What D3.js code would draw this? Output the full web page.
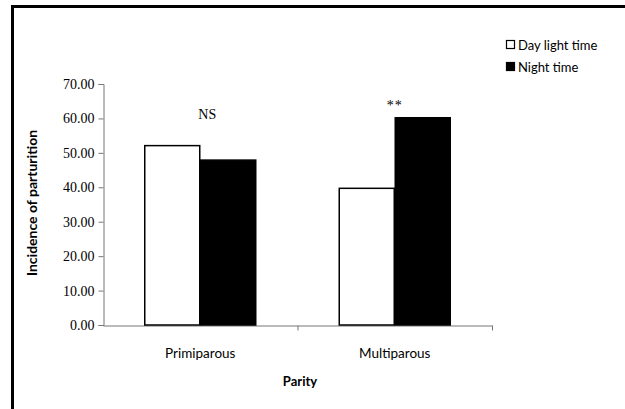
<!DOCTYPE html>
<html><head><meta charset="utf-8">
<script src="https://cdn.jsdelivr.net/npm/d3@7"></script>
<style>body{margin:0;background:#fff}svg{display:block}</style>
</head><body>
<svg id="c" width="625" height="409"></svg>
<script>
const categories = ["Primiparous", "Multiparous"];
const seriesNames = ["Day light time", "Night time"];
const dayValues = [52.1, 39.7];
const nightValues = [47.9, 60.2];
const annotations = ["NS", "**"];
const yTicks = [0, 10, 20, 30, 40, 50, 60, 70];

const svg = d3.select("#c");
// frame
svg.append("path").attr("d","M12.5,625 V6.5 H625").attr("fill","none").attr("stroke","#000").attr("stroke-width",3);

const x0 = d3.scaleBand().domain(categories).range([103, 492]).paddingInner(0).paddingOuter(0);
const x1 = d3.scaleBand().domain(seriesNames).range([0, 112]);
const y = d3.scaleLinear().domain([0, 70]).range([325, 84]);
const grp = (c) => x0(c) + (x0.bandwidth() - 112) / 2;

const yAxis = d3.axisLeft(y).tickValues(yTicks).tickFormat(d3.format(".2f")).tickSize(5).tickPadding(4);
const ga = svg.append("g").attr("transform","translate(103.5,0)").call(yAxis);
ga.select(".domain").attr("stroke","#777");
ga.selectAll(".tick line").attr("stroke","#777");
ga.selectAll("text").attr("font-family","Liberation Serif").attr("font-size",14).attr("fill","#000");

const xAxis = d3.axisBottom(x0).tickValues([]).tickSizeOuter(0);
const gx = svg.append("g").attr("transform","translate(0,325.5)").call(xAxis);
gx.select(".domain").attr("stroke","#777");
// category boundary ticks
const bounds = [x0.range()[0], x0(categories[1]), x0.range()[1]];
gx.selectAll("line.b").data(bounds.slice(1)).enter().append("line")
  .attr("x1",d=>d+0.5).attr("x2",d=>d+0.5).attr("y1",0).attr("y2",5).attr("stroke","#777");

const rows = categories.map((c,i)=>({c, vals:[dayValues[i], nightValues[i]]}));
rows.forEach((r,i)=>{
  r.vals.forEach((v,j)=>{
    svg.append("rect")
      .attr("x", grp(r.c) + x1(seriesNames[j]) + 0.5)
      .attr("y", y(v))
      .attr("width", x1.bandwidth() - 1)
      .attr("height", y(0) - y(v))
      .attr("fill", j===0 ? "#fff" : "#000")
      .attr("stroke", "#000").attr("stroke-width", 1.5);
  });
  svg.append("text").attr("x", x0(r.c) + x0.bandwidth()/2 + (i===0?7:0))
    .attr("y", i===0 ? 119 : 110).attr("text-anchor","middle")
    .attr("font-family","Liberation Serif").attr("font-size", 14)
    .attr("letter-spacing", i===0?0:1)
    .text(annotations[i]);
  svg.append("text").attr("x", x0(r.c) + x0.bandwidth()/2).attr("y", 358)
    .attr("text-anchor","middle").attr("font-family","Lato").attr("font-size",13.5).text(r.c);
});

svg.append("text").attr("x",300).attr("y",386).attr("text-anchor","middle")
  .attr("font-family","Lato").attr("font-weight","bold").attr("font-size",13).text("Parity");
svg.append("text").attr("transform","translate(37,203) rotate(-90)").attr("text-anchor","middle")
  .attr("font-family","Lato").attr("font-weight","bold").attr("font-size",14).text("Incidence of parturition");

// legend
seriesNames.forEach((s,j)=>{
  const ly = 45 + j*22;
  svg.append("rect").attr("x",506.5).attr("y",ly-4.5).attr("width",8).attr("height",8)
    .attr("fill", j===0?"#fff":"#000").attr("stroke","#000").attr("stroke-width",1.2);
  svg.append("text").attr("x",518).attr("y",ly+4.5).attr("font-family","Lato").attr("font-size",13).text(s);
});
</script>
</body></html>
